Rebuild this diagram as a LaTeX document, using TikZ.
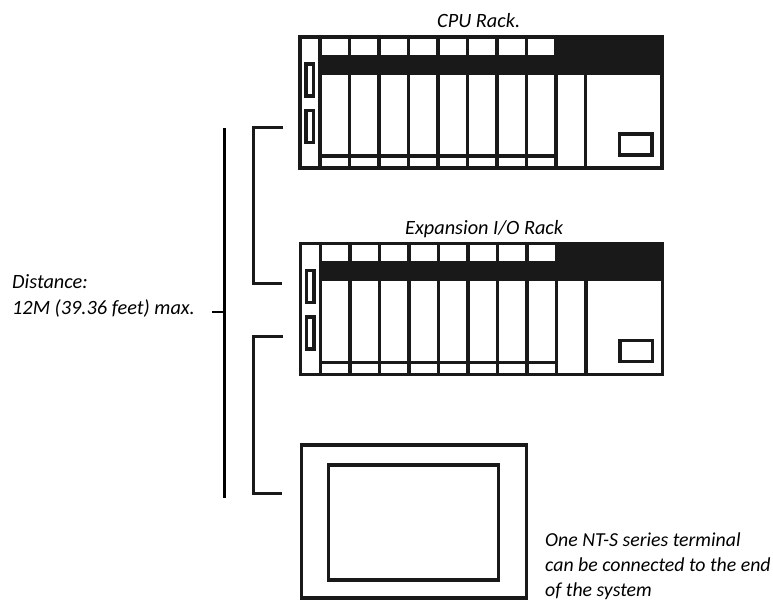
\documentclass[tikz,border=0pt]{standalone}
\usepackage{fontspec}
\setmainfont{Carlito}
\tikzset{
	unitline/.style={color=black!90, line width=3.3pt},
	busline/.style={color=black!90, line width=3pt},
	label/.style={anchor=base west, inner sep=0pt, font=\fontsize{20.3}{20.3}\selectfont\itshape},
	termlabel/.style={label, font=\fontsize{19.8}{19.8}\selectfont\itshape},
}

\begin{document}
\begin{tikzpicture}[x=1pt, y=-1pt]
	\useasboundingbox (0,0) rectangle (773,601);

	% the two racks
	\foreach \rackx/\racky in {0/0, 0.5/206.5} {
		\begin{scope}[xshift=\rackx pt, yshift=-\racky pt]
			\filldraw[black!90] (320,36) rectangle (662,74);
			\fill[white] (320,37.5) rectangle (557,55);
			\draw[unitline] (300,37) rectangle (662,168);
			\foreach \slotx in {320,349.5,...,587} {
				\draw[unitline] (\slotx,37) -- (\slotx,168);
			}
			\draw[unitline] (320,156) -- (557,156);
			\draw[unitline] (306,64) rectangle (313.5,96);
			\draw[unitline] (306,110.5) rectangle (313.5,142.5);
			\draw[unitline] (619.5,134) rectangle (652,155);
		\end{scope}
	}

	% terminal
	\draw[unitline] (301.5,445) rectangle (526.5,598);
	\draw[unitline] (328.5,465) rectangle (498.5,580);

	% cables
	\coordinate (cpuend) at (283,128);
	\coordinate (cpucorner) at (253,128);
	\coordinate (expincorner) at (253,284);
	\coordinate (expinend) at (282,284);
	\coordinate (expoutend) at (283,336);
	\coordinate (expoutcorner) at (253,336);
	\coordinate (termcorner) at (253,493);
	\coordinate (termend) at (282,493);
	\draw[busline] (cpuend) -- (cpucorner) -- (expincorner) -- (expinend);
	\draw[busline] (expoutend) -- (expoutcorner) -- (termcorner) -- (termend);

	% distance bar
	\coordinate (bartop) at (224.5,128);
	\coordinate (barbottom) at (224.5,498);
	\coordinate (barmid) at (224.5,312);
	\coordinate (bartick) at (212,312);
	\draw[color=black, line width=2.2pt] (bartop) -- (barbottom);
	\draw[color=black, line width=2.2pt] (bartick) -- (barmid);

	\node[label] (cpulabel) at (437,28) {CPU Rack.};
	\node[label] (explabel) at (405,235) {Expansion I/O Rack};
	\node[label] (distlabel) at (12,289) {Distance:};
	\node[label] (maxlabel) at (12,315) {12M (39.36 feet) max.};
	\node[termlabel] (termlabela) at (545,546) {One NT-S series terminal};
	\node[termlabel] (termlabelb) at (545,571) {can be connected to the end};
	\node[termlabel] (termlabelc) at (545,596) {of the system};
\end{tikzpicture}
\end{document}
